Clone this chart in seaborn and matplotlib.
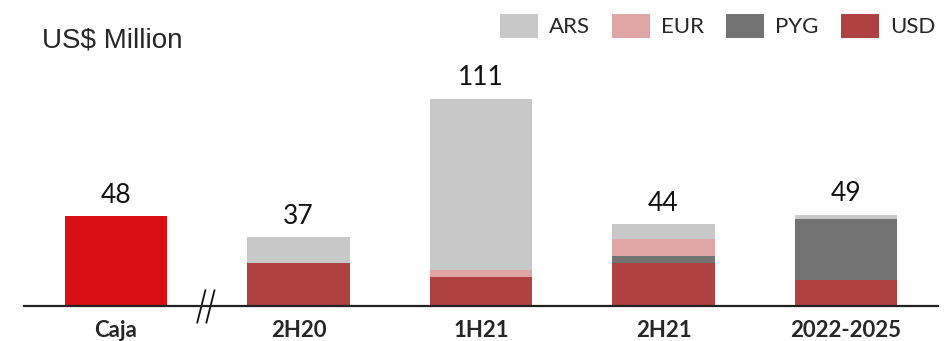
import numpy as np
import pandas as pd
import seaborn as sns
import matplotlib.pyplot as plt
from matplotlib.patches import Patch

# data
periods = ['Caja', '2H20', '1H21', '2H21', '2022-2025']
caja = [48, 0, 0, 0, 0]
usd = [0, 23, 15.5, 23, 14]
pyg = [0, 0, 0, 4, 32.5]
eur = [0, 0, 4, 9, 0]
ars = [0, 14, 91.5, 8, 2.5]
totals = [48, 37, 111, 44, 49]

colors = {'ARS': '#C8C8C8', 'EUR': '#E0A6A5', 'PYG': '#737373', 'USD': '#B04141'}
caja_color = '#D90F14'

sns.set_style('white')
plt.rcParams['font.family'] = ['Lato', 'DejaVu Sans']

fig = plt.figure(figsize=(9.45, 3.41), dpi=100)
ax = fig.add_axes([24 / 945, 1 - 306 / 341, (938 - 24) / 945, 306 / 341])

# stacked bars: draw cumulative layers from the top down
layers = [('ARS', ars), ('EUR', eur), ('PYG', pyg), ('USD', usd)]
stack = np.array(usd) + np.array(pyg) + np.array(eur) + np.array(ars)
for name, vals in layers:
    df = pd.DataFrame({'period': periods, 'value': stack})
    sns.barplot(data=df, x='period', y='value', order=periods, color=colors[name],
                width=0.56, saturation=1, edgecolor='none', ax=ax)
    stack = stack - np.array(vals)

df = pd.DataFrame({'period': periods, 'value': caja})
sns.barplot(data=df, x='period', y='value', order=periods, color=caja_color,
            width=0.56, saturation=1, edgecolor='none', ax=ax)

for i, t in enumerate(totals):
    ax.text(i, t + 4.5, f'{t:g}', ha='center', va='bottom', fontsize=19, color='#111111')

ax.set_xlim(-0.504, 4.504)
ax.set_ylim(0, 164)
ax.set_xlabel('')
ax.set_ylabel('')
ax.set_yticks([])
ax.tick_params(axis='x', length=0, pad=10)
for lbl in ax.get_xticklabels():
    lbl.set_fontweight('bold')
    lbl.set_fontsize(16)
sns.despine(ax=ax, left=True)
ax.spines['bottom'].set_color('#222222')
ax.spines['bottom'].set_linewidth(1.6)

# axis break marks
for x0 in (0.445, 0.495):
    ax.plot([x0, x0 + 0.045], [-9, 8.5], color='#111111', lw=1.3, clip_on=False)

fig.text(42 / 945, 1 - 40 / 341, 'US$ Million', fontsize=20, va='center', ha='left',
         family=['Liberation Sans', 'DejaVu Sans'])

handles = [Patch(facecolor=colors[k], edgecolor='none') for k in ['ARS', 'EUR', 'PYG', 'USD']]
fig.legend(handles, ['ARS', 'EUR', 'PYG', 'USD'], ncol=4, frameon=False, fontsize=16,
           loc='center right', bbox_to_anchor=(935 / 945, 1 - 26 / 341),
           handlelength=1.7, handleheight=1.3, handletextpad=0.5, columnspacing=1.0,
           borderaxespad=0, borderpad=0)

fig.savefig('out.png', dpi=100)
